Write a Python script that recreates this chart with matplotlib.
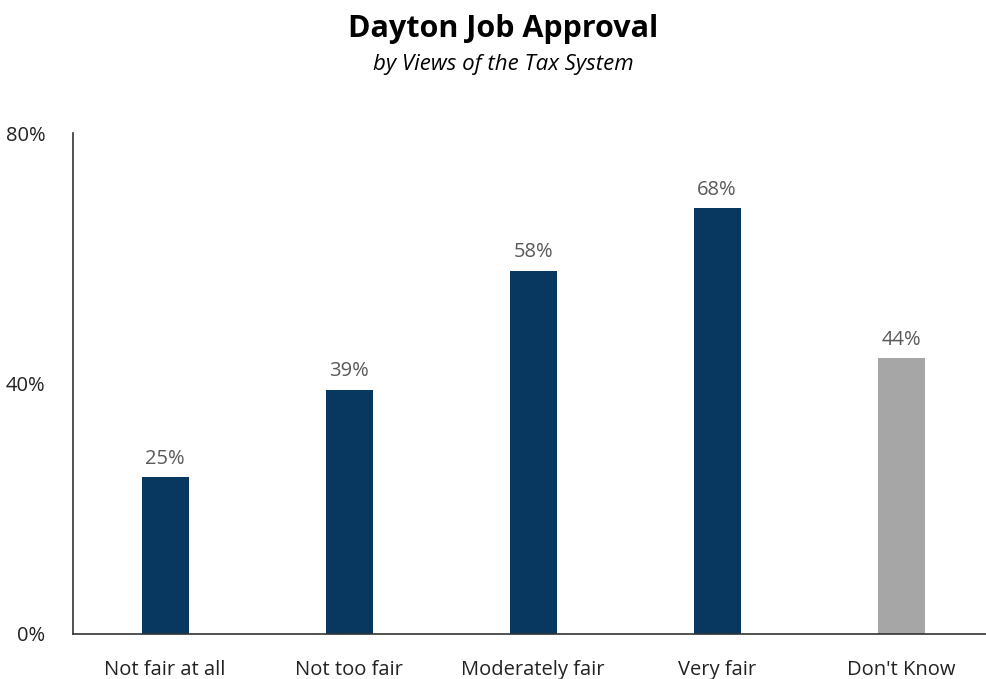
import matplotlib.pyplot as plt
from matplotlib.ticker import PercentFormatter

categories = ["Not fair at all", "Not too fair", "Moderately fair", "Very fair", "Don't Know"]
approval = [25, 39, 58, 68, 44]
bar_colors = ["#083860", "#083860", "#083860", "#083860", "#A6A6A6"]

plt.rcParams['font.family'] = ['Open Sans', 'DejaVu Sans']

fig = plt.figure(figsize=(9.87, 6.79), dpi=100)
ax = fig.add_axes([0.074, 0.0663, 0.9322, 0.7378])

x = range(len(categories))
bars = ax.bar(x, approval, width=0.255, color=bar_colors)
for xi, v in zip(x, approval):
    ax.annotate(f'{v}%', (xi, v), textcoords="offset points", xytext=(0, 6),
                ha='center', va='bottom', fontsize=14.5, color='#595959')

ax.set_xlim(-0.5, len(categories) - 0.5)
ax.set_ylim(0, 80)
ax.set_yticks([0, 40, 80])
ax.yaxis.set_major_formatter(PercentFormatter(decimals=0))
ax.set_xticks(list(x))
ax.set_xticklabels(categories)
ax.tick_params(axis='both', length=0, labelsize=14.5, colors='#222222')
ax.tick_params(axis='y', pad=20)
ax.tick_params(axis='x', pad=19)
for s in ['top', 'right']:
    ax.spines[s].set_visible(False)
for s in ['left', 'bottom']:
    ax.spines[s].set_color('#333333')
    ax.spines[s].set_linewidth(1.2)

fig.text(0.51, 0.957, 'Dayton Job Approval', ha='center', va='center',
         fontsize=22, fontweight='bold', color='black')
fig.text(0.51, 0.905, 'by Views of the Tax System', ha='center', va='center',
         fontsize=16, style='italic', color='black')

fig.savefig('out.png', dpi=100)
